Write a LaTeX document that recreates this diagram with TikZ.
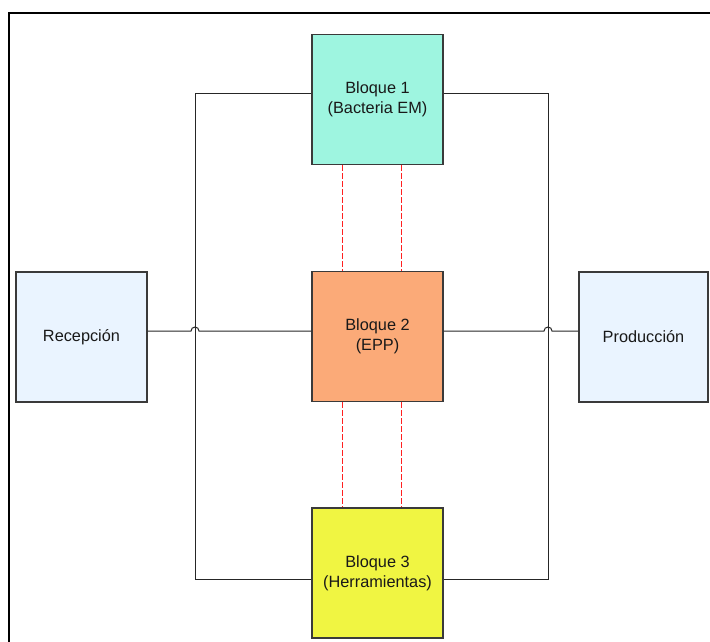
\documentclass[tikz,border=0pt]{standalone}
\usepackage{fontspec}
\setmainfont{Liberation Sans}
\definecolor{cB1}{HTML}{9EF5E0}
\definecolor{cB2}{HTML}{FBAA78}
\definecolor{cB3}{HTML}{F0F542}
\definecolor{cSide}{HTML}{EAF4FF}
\definecolor{cEdge}{HTML}{3A3A3A}
\definecolor{cRed}{HTML}{FF2020}
\begin{document}
\begin{tikzpicture}[x=1pt,y=-1pt,
  blockbox/.style={draw=cEdge, line width=1.3pt, minimum width=131pt, minimum height=130pt,
    inner sep=0pt, align=center, font=\fontsize{16.3}{20}\selectfont, text=black!90},
  link/.style={draw=black!85, line width=1pt},
  redlink/.style={draw=cRed, line width=1pt, dash pattern=on 6pt off 2pt},
  frameline/.style={draw=black, line width=2pt}]
\useasboundingbox (0,0) rectangle (710,642);
\coordinate (ftop) at (710,13);
\coordinate (fcorner) at (9,13);
\coordinate (fbot) at (9,643);
\draw[frameline] (ftop) -- (fcorner) -- (fbot);

\node[blockbox, fill=cB1] (b1) at (377.5,99.5) {Bloque 1\\(Bacteria EM)};
\node[blockbox, fill=cB2] (b2) at (377.5,336.5) {Bloque 2\\(EPP)};
\node[blockbox, fill=cB3] (b3) at (377.5,573) {Bloque 3\\(Herramientas)};
\node[blockbox, fill=cSide, minimum width=131pt] (rec) at (81.5,337) {Recepción};
\node[blockbox, fill=cSide, minimum width=129pt] (prod) at (643.5,337) {Producción};

\coordinate (lb) at (195,579);
\coordinate (rb) at (548,579);
\draw[link] ([yshift=5.5pt]b1.west) -| (lb) -- ([yshift=-6pt]b3.west);
\draw[link] ([yshift=5.5pt]b1.east) -| (rb) -- ([yshift=-6pt]b3.east);

\coordinate (hopL) at (191,331);
\coordinate (hopR) at (544,331);
\draw[link] ([yshift=6pt]rec.east) -- (hopL) arc[start angle=180, end angle=0, radius=4pt] -- ([yshift=5.5pt]b2.west);
\draw[link] ([yshift=5.5pt]b2.east) -- (hopR) arc[start angle=180, end angle=0, radius=4pt] -- ([yshift=6pt]prod.west);

\draw[redlink] ([xshift=-35.5pt]b1.south) -- ([xshift=-35.5pt]b2.north);
\draw[redlink] ([xshift=23.5pt]b1.south) -- ([xshift=23.5pt]b2.north);
\draw[redlink] ([xshift=-35.5pt]b2.south) -- ([xshift=-35.5pt]b3.north);
\draw[redlink] ([xshift=23.5pt]b2.south) -- ([xshift=23.5pt]b3.north);
\end{tikzpicture}
\end{document}
